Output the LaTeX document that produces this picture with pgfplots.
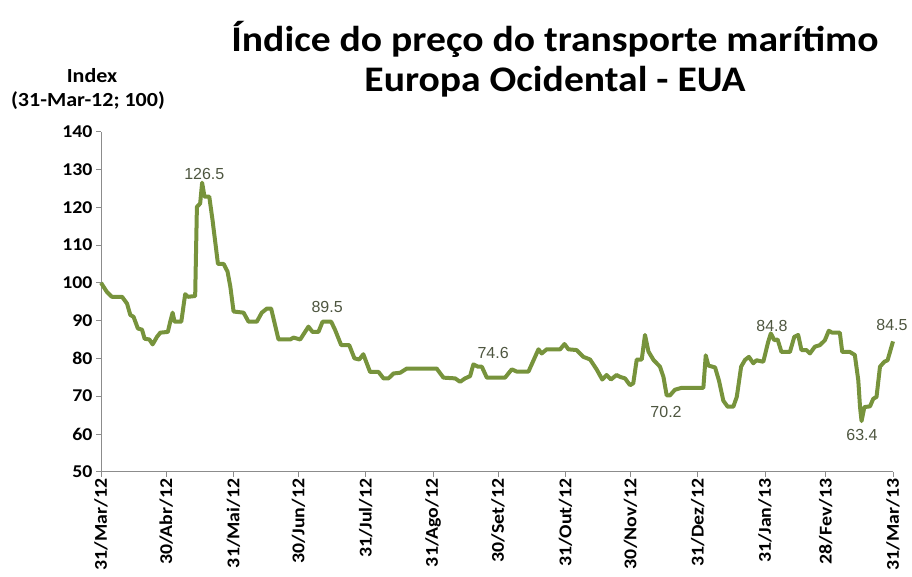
\documentclass[border=0pt]{standalone}
\usepackage{pgfplots}
\pgfplotsset{compat=1.18}
\usepackage{fontspec}
\setmainfont[FakeStretch=1.1]{Carlito}
\newfontfamily\arialfont{Liberation Sans}
\definecolor{lineg}{HTML}{77933C}
\definecolor{axisg}{HTML}{8C8C8C}
\definecolor{lblc}{HTML}{4E5640}
\pgfplotstableread{
d v
0 100.0
2.7 97.6
5.0 96.3
9.7 96.3
12.0 94.5
13.5 91.5
15.0 91.0
17.0 87.9
18.9 87.6
20.1 85.2
22.3 85.0
23.8 83.7
25.8 85.7
27.3 86.8
30.8 87.0
31.9 89.7
33.0 92.1
33.9 89.7
37.0 89.7
38.8 97.0
40.1 96.3
43.4 96.5
44.2 120.1
45.7 121.0
46.6 126.5
47.7 122.8
49.9 122.8
51.4 116.6
53.9 105.0
56.5 105.0
58.3 103.0
59.6 99.0
61.1 92.4
65.7 92.1
68.0 89.7
71.8 89.7
74.1 92.1
76.5 93.2
78.4 93.2
81.8 85.0
87.2 85.0
88.7 85.5
91.8 85.0
95.6 88.4
97.5 87.0
100.2 87.0
102.1 89.7
106.1 89.7
107.9 87.5
110.7 83.5
114.4 83.5
116.8 80.0
119.0 79.7
120.9 81.1
124.0 76.4
127.9 76.4
130.2 74.7
132.5 74.7
134.8 76.0
137.9 76.2
140.9 77.3
154.7 77.3
157.8 74.9
163.2 74.7
165.5 73.8
167.8 74.7
170.1 75.3
171.6 78.4
173.7 77.8
175.5 77.8
177.8 74.9
186.2 74.9
189.3 77.1
191.6 76.5
197.0 76.5
201.6 82.4
203.1 81.3
205.4 82.4
211.6 82.4
213.6 83.8
215.4 82.4
219.2 82.2
222.3 80.4
225.4 79.7
228.4 77.1
231.0 74.4
233.0 75.6
235.0 74.4
237.6 75.6
239.2 75.1
241.5 74.7
243.8 72.9
245.3 73.4
246.9 79.7
249.2 79.7
250.7 86.2
252.3 81.8
254.6 79.6
257.6 77.8
259.2 75.1
260.7 70.2
262.2 70.2
264.5 71.7
267.6 72.2
277.6 72.2
278.7 80.8
279.9 78.1
283.0 77.6
284.8 74.1
286.8 68.8
288.8 67.2
291.4 67.2
293.0 69.8
295.0 77.8
296.8 79.6
298.6 80.4
300.6 78.7
302.1 79.5
305.2 79.1
307.5 84.4
308.7 86.6
310.3 84.8
311.8 85.0
313.6 81.7
317.5 81.7
319.5 85.7
321.3 86.2
322.8 82.2
325.1 82.2
326.7 81.3
329.0 83.1
331.3 83.5
333.6 84.8
335.4 87.3
337.0 86.8
340.5 86.8
341.6 81.7
345.1 81.7
347.4 80.9
349.0 74.2
349.8 67.1
350.5 63.4
351.8 67.1
354.4 67.3
355.9 69.3
357.4 69.8
359.0 77.8
361.0 79.1
362.5 79.5
365.0 84.5
}\datatable
\begin{document}
\begin{tikzpicture}[x=1pt,y=1pt]
\path[use as bounding box] (0,0) rectangle (912,576);
\node[font=\bfseries\fontsize{36}{36}\selectfont] at (555,537) {Índice do preço do transporte marítimo};
\node[font=\bfseries\fontsize{36}{36}\selectfont] at (555,494) {Europa Ocidental - EUA};
\node[font=\bfseries\fontsize{20}{20}\selectfont] at (92,500) {Index};
\node[font=\bfseries\fontsize{20}{20}\selectfont] at (88,475) {(31-Mar-12; 100)};
\begin{axis}[
  at={(101pt,104.3pt)}, anchor=south west,
  width=792pt, height=340pt, scale only axis,
  xmin=0, xmax=365, ymin=50, ymax=140,
  axis lines*=left,
  xtick={0,30,61,91,122,153,183,214,244,275,306,334,365},
  xticklabels={31/Mar/12,30/Abr/12,31/Mai/12,30/Jun/12,31/Jul/12,31/Ago/12,30/Set/12,31/Out/12,30/Nov/12,31/Dez/12,31/Jan/13,28/Fev/13,31/Mar/13},
  ytick={50,60,...,140},
  tick align=outside, major tick length=5pt,
  tick style={axisg, line width=0.8pt},
  axis line style={axisg, line width=1pt},
  /pgf/number format/assume math mode=true,
  xticklabel style={rotate=90, anchor=east, font=\bfseries\fontsize{18}{18}\selectfont, inner sep=2pt},
  yticklabel style={font=\bfseries\fontsize{18}{18}\selectfont},
  clip=false,
]
\addplot[lineg, line width=4pt, line join=round] table[x=d, y=v] {\datatable};
\begin{scope}[every node/.style={font=\arialfont\fontsize{16}{16}\selectfont, text=lblc}]
\node at (axis cs:47.6,128.9) {126.5};
\node at (axis cs:104.2,93.6) {89.5};
\node at (axis cs:180.7,81.5) {74.6};
\node at (axis cs:260.4,65.7) {70.2};
\node at (axis cs:309.2,88.6) {84.8};
\node at (axis cs:364.5,88.8) {84.5};
\node at (axis cs:350.7,59.6) {63.4};
\end{scope}
\end{axis}
\end{tikzpicture}
\end{document}
